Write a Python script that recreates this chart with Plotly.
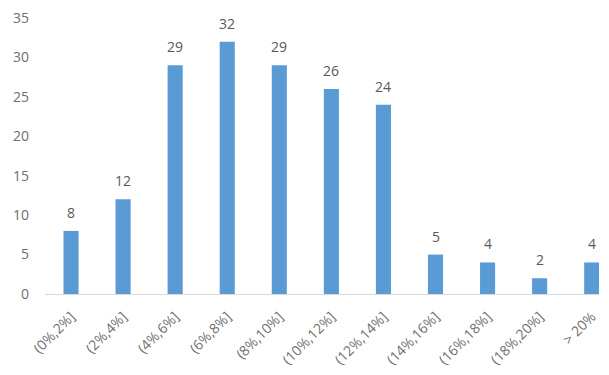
import plotly.graph_objects as go

categories = ["(0%,2%]", "(2%,4%]", "(4%,6%]", "(6%,8%]", "(8%,10%]", "(10%,12%]",
              "(12%,14%]", "(14%,16%]", "(16%,18%]", "(18%,20%]", "> 20%"]
values = [8, 12, 29, 32, 29, 26, 24, 5, 4, 2, 4]
y_ticks = [0, 5, 10, 15, 20, 25, 30, 35]

fig = go.Figure(go.Bar(
    x=categories, y=values,
    marker=dict(color="#5B9BD5", line=dict(width=0)),
))

for c, v in zip(categories, values):
    fig.add_annotation(
        x=c, y=v, text=str(v), showarrow=False,
        yanchor="bottom", yshift=7,
        font=dict(family="Open Sans", size=14, color="#595959"),
    )

fig.update_layout(
    width=609, height=375,
    margin=dict(l=45, r=10, t=18, b=81),
    paper_bgcolor="white", plot_bgcolor="white",
    bargap=0.71,
    showlegend=False,
    font=dict(family="Open Sans", size=14, color="#6e6e6e"),
)
fig.update_xaxes(
    range=[-0.5, 10.14], tickangle=-45, showgrid=False, automargin=False,
    showline=True, linecolor="#d9d9d9", linewidth=1,
    ticks="", ticklabelstandoff=8, tickfont=dict(size=14, color="#6e6e6e"),
)
fig.update_yaxes(
    range=[0, 35], tickvals=y_ticks, showgrid=False, zeroline=False, automargin=False,
    showline=False, ticks="", ticklabelstandoff=15,
    tickfont=dict(size=14, color="#6e6e6e"),
)

fig.write_html("out.html")
